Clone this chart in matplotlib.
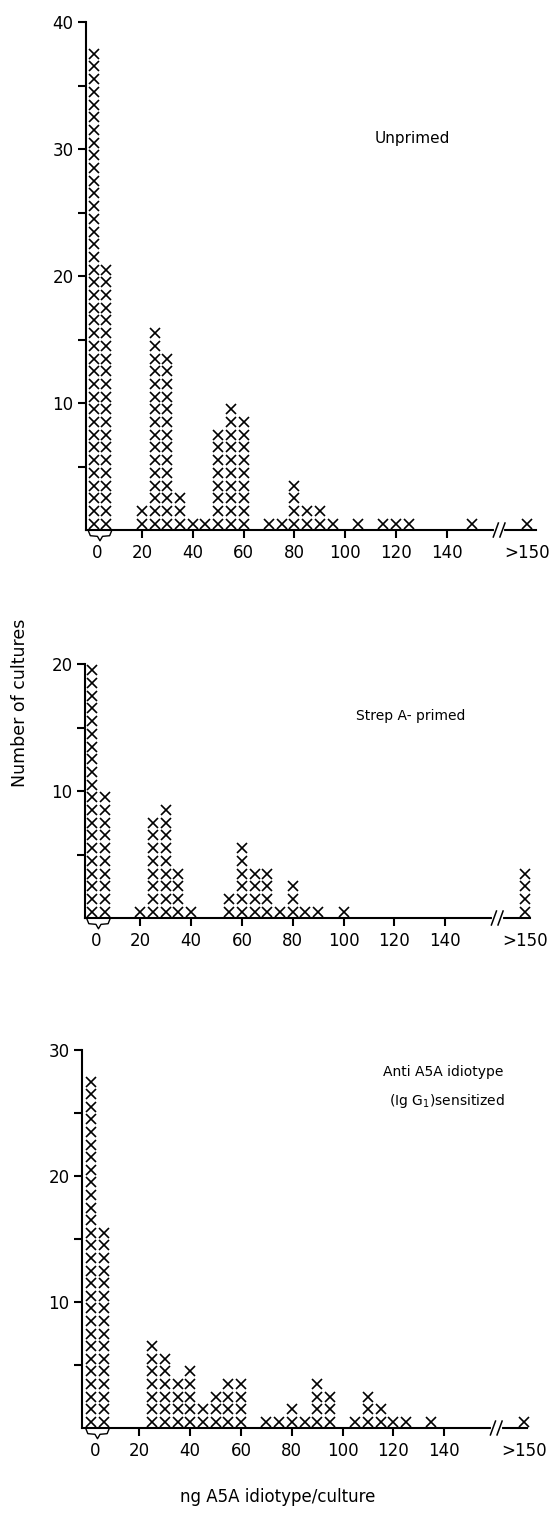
import matplotlib
matplotlib.use("Agg")
import matplotlib.pyplot as plt
import numpy as np

# counts of cultures per ng A5A idiotype / culture
# two columns under the "0" brace, then 5 ng bins, then the ">150" column
unprimed_zero = [38, 21]
unprimed_ng = [20, 25, 30, 35, 40, 45, 50, 55, 60, 70, 75, 80, 85, 90, 95, 105, 115, 120, 125, 150]
unprimed_n = [2, 16, 14, 3, 1, 1, 8, 10, 9, 1, 1, 4, 2, 2, 1, 1, 1, 1, 1, 1]
unprimed_over = 1

strep_zero = [20, 10]
strep_ng = [20, 25, 30, 35, 40, 55, 60, 65, 70, 75, 80, 85, 90, 100]
strep_n = [1, 8, 9, 4, 1, 2, 6, 4, 4, 1, 3, 1, 1, 1]
strep_over = 4

anti_zero = [28, 16]
anti_ng = [25, 30, 35, 40, 45, 50, 55, 60, 70, 75, 80, 85, 90, 95, 105, 110, 115, 120, 125, 135]
anti_n = [7, 6, 4, 5, 2, 3, 4, 4, 1, 1, 2, 1, 4, 3, 1, 3, 2, 1, 1, 1]
anti_over = 1

x_ticks = [20, 40, 60, 80, 100, 120, 140]
x_labels = ["20", "40", "60", "80", "100", "120", "140"]

W, H = 552, 1520
fig = plt.figure(figsize=(W / 100, H / 100), dpi=100)
plt.rcParams['font.family'] = ['DejaVu Sans']

# left, right, bottom(px from top), px per count, ymax, xleft, xright
panels = [
	(86, 536, 530, 12.7, 40, -2.0, 175.0, unprimed_zero, unprimed_ng, unprimed_n, unprimed_over),
	(85, 530, 918, 12.7, 20, -1.8, 173.4, strep_zero, strep_ng, strep_n, strep_over),
	(82, 527, 1428, 12.6, 30, -2.6, 172.6, anti_zero, anti_ng, anti_n, anti_over),
]

ZERO_POS = [1.0, 6.0]
OVER_POS = 171.5
BREAK_POS = 160.5

for (l, r, b, ppc, ymax, xl, xr, zero, ng, n, over) in panels:
	hgt = ymax * ppc
	ax = fig.add_axes([l / W, (H - b) / H, (r - l) / W, hgt / H])
	xs = list(np.repeat(ZERO_POS, zero)) + list(np.repeat(ng, n)) + [OVER_POS] * over
	ys = [k + 0.5 for c in zero for k in range(c)] + [k + 0.5 for c in n for k in range(c)] \
		+ [k + 0.5 for k in range(over)]
	ax.plot(xs, ys, 'x', color='black', markersize=6.5, markeredgewidth=1.2, clip_on=False)

	ax.set_xlim(xl, xr)
	ax.set_ylim(0, ymax)
	for s in ['top', 'right']:
		ax.spines[s].set_visible(False)
	for s in ['left', 'bottom']:
		ax.spines[s].set_linewidth(1.5)

	ax.set_xticks([2.5] + x_ticks + [OVER_POS])
	ax.set_xticklabels(["0"] + x_labels + [">150"])
	ax.set_yticks(list(range(10, ymax + 1, 10)))
	ax.set_yticks(list(range(5, ymax, 10)), minor=True)
	ax.tick_params(axis='both', which='both', direction='out', length=6, width=1.5,
		labelsize=12, pad=3)
	ax.tick_params(axis='x', pad=4)
	xt = ax.xaxis.get_major_ticks()
	xt[0].tick1line.set_visible(False)
	xt[-1].tick1line.set_visible(False)

	# brace under the zero columns
	bx = np.array([-1.0, -0.3, 2.5, 3.5, 4.5, 7.3, 8.0])
	by = np.array([-0.1, -0.45, -0.5, -0.85, -0.5, -0.45, -0.1])
	ax.plot(bx, by, color='black', lw=1.0, clip_on=False)

	# axis break
	ax.plot([BREAK_POS - 1.3, BREAK_POS + 1.3], [0, 0], color='white', lw=3, clip_on=False, zorder=5)
	for dx in (-1.3, 1.3):
		ax.plot([BREAK_POS + dx - 1.0, BREAK_POS + dx + 1.0], [-0.55, 0.55], color='black',
			lw=1.1, clip_on=False, zorder=6)

fig.text(412 / W, 1 - 138 / H, "Unprimed", ha='center', va='center', fontsize=11)
fig.text(411 / W, 1 - 716 / H, "Strep A- primed", ha='center', va='center', fontsize=10)
fig.text(443 / W, 1 - 1072 / H, "Anti A5A idiotype", ha='center', va='center', fontsize=10)
fig.text(447 / W, 1 - 1101 / H, "(Ig G$_1$)sensitized", ha='center', va='center', fontsize=10)
fig.text(20 / W, 1 - 703 / H, "Number of cultures", ha='center', va='center', fontsize=12.5,
	rotation=90)
fig.text(278 / W, 1 - 1497 / H, "ng A5A idiotype/culture", ha='center', va='center', fontsize=12)

fig.savefig("out.png", dpi=100)
